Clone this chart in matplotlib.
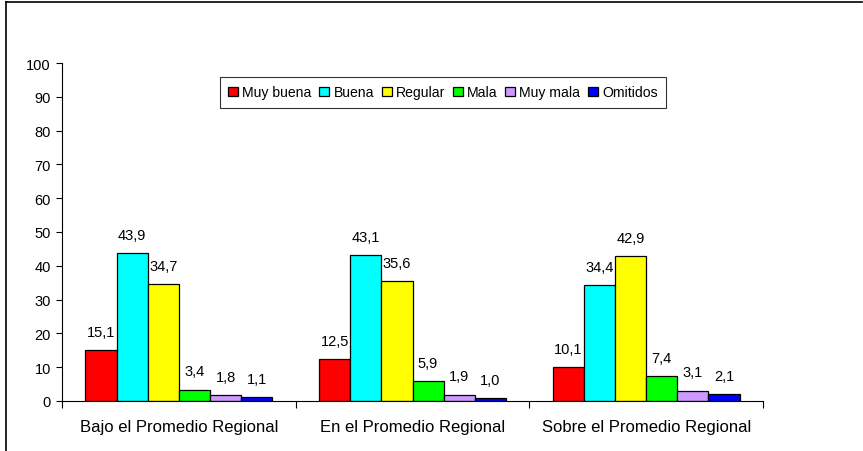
import matplotlib
matplotlib.use("Agg")
import matplotlib.pyplot as plt
import numpy as np

plt.rcParams['font.family'] = ['Liberation Sans', 'DejaVu Sans']

categories = ["Bajo el Promedio Regional", "En el Promedio Regional", "Sobre el Promedio Regional"]
series_names = ["Muy buena", "Buena", "Regular", "Mala", "Muy mala", "Omitidos"]
muy_buena = [15.1, 12.5, 10.1]
buena = [43.9, 43.1, 34.4]
regular = [34.7, 35.6, 42.9]
mala = [3.4, 5.9, 7.4]
muy_mala = [1.8, 1.9, 3.1]
omitidos = [1.1, 1.0, 2.1]
colors = ["#FF0000", "#00FFFF", "#FFFF00", "#00FF00", "#CC99FF", "#0000FF"]

series = [muy_buena, buena, regular, mala, muy_mala, omitidos]

fig = plt.figure(figsize=(8.63, 4.52), dpi=100)
ax = fig.add_axes([62 / 863, 50 / 452, 701 / 863, 338 / 452])

n = len(series)
group_w = 0.8
bw = group_w / n
x = np.arange(len(categories))
for i, (vals, name, c) in enumerate(zip(series, series_names, colors)):
    pos = x - group_w / 2 + bw * (i + 0.5)
    bars = ax.bar(pos, vals, bw, color=c, edgecolor="black", linewidth=0.9, label=name)
    for b, v in zip(bars, vals):
        ax.annotate(f"{v:.1f}".replace(".", ","),
                    (b.get_x() + b.get_width() / 2, v),
                    xytext=(0, 8), textcoords="offset points",
                    ha="center", va="bottom", fontsize=10.5)

ax.set_xlim(-0.5, len(categories) - 0.5)
ax.set_ylim(0, 100)
ax.set_yticks(range(0, 101, 10))
ax.set_xticks(np.arange(-0.5, len(categories), 1.0), minor=False)
ax.set_xticklabels([])
ax.set_xticks(x, minor=True)
ax.set_xticklabels(categories, minor=True, fontsize=12)
ax.tick_params(axis="x", which="minor", length=0, pad=13)
ax.tick_params(axis="x", which="major", length=5, width=0.8, direction="out")
ax.tick_params(axis="y", length=4, width=0.8, labelsize=10.5, pad=4)
for s in ["top", "right"]:
    ax.spines[s].set_visible(False)
for s in ["left", "bottom"]:
    ax.spines[s].set_linewidth(0.8)

leg = ax.legend(loc="upper center", bbox_to_anchor=(443 / 863, 1 - 71 / 452),
                bbox_transform=fig.transFigure, ncol=6, fontsize=10.1,
                frameon=True, fancybox=False, edgecolor="black",
                handlelength=0.7, handleheight=0.7, handletextpad=0.3,
                columnspacing=0.55, borderpad=0.6)
leg.get_frame().set_linewidth(0.8)

# outer border along top and left
fig.add_artist(plt.Line2D([6 / 863, 862 / 863], [1 - 3 / 452, 1 - 3 / 452],
                          transform=fig.transFigure, color="black", linewidth=1.2))
fig.add_artist(plt.Line2D([6 / 863, 6 / 863], [0, 1 - 3 / 452],
                          transform=fig.transFigure, color="black", linewidth=1.2))

fig.savefig("out.png", dpi=100)
